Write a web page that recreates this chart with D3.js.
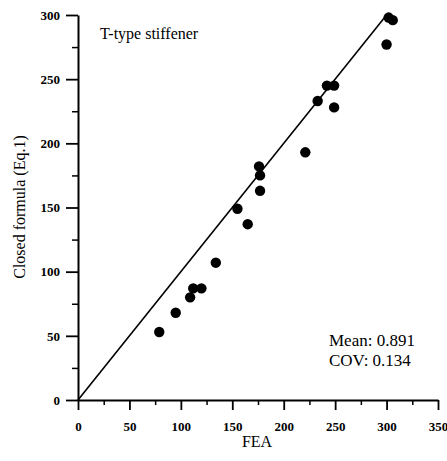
<!DOCTYPE html>
<html>
<head>
<meta charset="utf-8">
<script src="https://cdn.jsdelivr.net/npm/d3@7"></script>
<style>
  body { margin: 0; background: #fff; }
  svg text { font-family: "Liberation Serif", "Times New Roman", serif; fill: #000; }
</style>
</head>
<body>
<div id="chart"></div>
<script>
// values (FEA vs closed formula)
const fea    = [79, 95, 109, 112, 120, 134, 155, 165, 176, 177, 177, 221, 233, 242, 249, 249, 300, 302, 306];
const closed = [53, 68, 80, 87, 87, 107, 149, 137, 182, 175, 163, 193, 233, 245, 245, 228, 277, 298, 296];
const xTicks = [0, 50, 100, 150, 200, 250, 300, 350];
const yTicks = [0, 50, 100, 150, 200, 250, 300];
const lineExtent = [0, 300];

const width = 447, height = 461;
const margin = { left: 78, right: 9, top: 15, bottom: 61 };

const svg = d3.select('#chart')
  .append('svg')
  .attr('width', width)
  .attr('height', height);

let x = d3.scaleLinear()
  .domain([0, 350])
  .range([margin.left, width - margin.right]);

let y = d3.scaleLinear()
  .domain([0, 300])
  .range([height - margin.bottom, margin.top]);

// minor ticks
svg.append('g')
  .attr('transform', 'translate(0,' + y(0) + ')')
  .call(d3.axisBottom(x).tickValues(d3.range(25, 350, 50)).tickSize(5).tickFormat(''))
  .call(g => g.select('.domain').remove())
  .selectAll('line').attr('stroke-width', 1.5);

svg.append('g')
  .attr('transform', 'translate(' + x(0) + ',0)')
  .call(d3.axisLeft(y).tickValues(d3.range(25, 300, 50)).tickSize(6).tickFormat(''))
  .call(g => g.select('.domain').remove())
  .selectAll('line').attr('stroke-width', 1.5);

// main axes
const xAxis = svg.append('g')
  .attr('transform', 'translate(0,' + y(0) + ')')
  .call(d3.axisBottom(x).tickValues(xTicks).tickSize(10).tickSizeOuter(0).tickPadding(12));

const yAxis = svg.append('g')
  .attr('transform', 'translate(' + x(0) + ',0)')
  .call(d3.axisLeft(y).tickValues(yTicks).tickSize(12).tickSizeOuter(0).tickPadding(6));

[xAxis, yAxis].forEach(a => {
  a.select('.domain').attr('stroke-width', 2);
  a.selectAll('line').attr('stroke-width', 1.8);
  a.selectAll('text')
    .attr('fill', '#000')
    .style('font-family', '"Liberation Serif", serif')
    .style('font-size', '13px')
    .style('font-weight', 'bold');
});

// 1:1 line
svg.append('line')
  .attr('x1', x(lineExtent[0]))
  .attr('y1', y(lineExtent[0]))
  .attr('x2', x(lineExtent[1]))
  .attr('y2', y(lineExtent[1]))
  .attr('stroke', '#000')
  .attr('stroke-width', 1.6);

// points
svg.append('g')
  .selectAll('circle')
  .data(fea)
  .enter()
  .append('circle')
  .attr('cx', d => x(d))
  .attr('cy', (d, i) => y(closed[i]))
  .attr('r', 5.2)
  .attr('fill', '#000');

// labels
const label = (px, py, size, txt) => svg.append('text')
  .attr('x', px)
  .attr('y', py)
  .attr('fill', '#000')
  .style('font-size', size + 'px')
  .text(txt);

label(100, 39, 16, 'T-type stiffener');
label(329, 346, 17, 'Mean: 0.891');
label(329, 366, 17, 'COV: 0.134');
label(257, 447, 16, 'FEA').attr('text-anchor', 'middle');

svg.append('text')
  .attr('transform', 'translate(25,207)rotate(-90)')
  .attr('text-anchor', 'middle')
  .attr('fill', '#000')
  .style('font-size', '16px')
  .text('Closed formula (Eq.1)');
</script>
</body>
</html>
